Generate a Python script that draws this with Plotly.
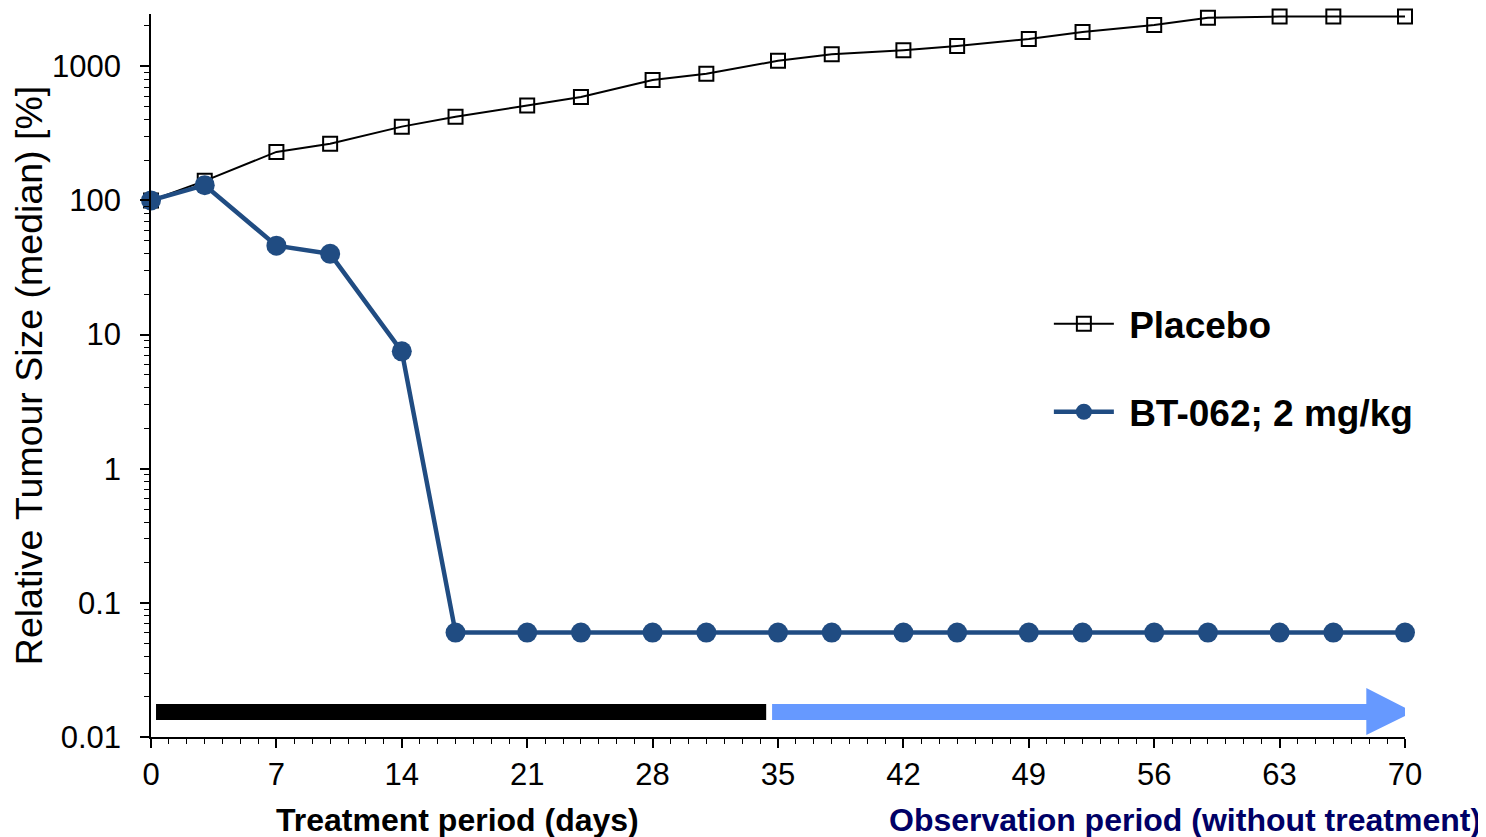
import plotly.graph_objects as go

days = [0, 3, 7, 10, 14, 17, 21, 24, 28, 31, 35, 38, 42, 45, 49, 52, 56, 59, 63, 66, 70]
placebo = [100, 140, 230, 265, 355, 420, 510, 590, 790, 880, 1100, 1230, 1320, 1420,
           1600, 1800, 2030, 2300, 2350, 2350, 2350]
bt062 = [100, 130, 46, 40, 7.5, 0.06, 0.06, 0.06, 0.06, 0.06, 0.06, 0.06, 0.06,
         0.06, 0.06, 0.06, 0.06, 0.06, 0.06, 0.06, 0.06]

y_tickvals = [0.01, 0.1, 1, 10, 100, 1000]
y_ticktext = ["0.01", "0.1", "1", "10", "100", "1000"]
x_tickvals = [0, 7, 14, 21, 28, 35, 42, 49, 56, 63, 70]

BLUE = "#204C82"
NAVY = "#000066"
FONT = "Liberation Sans, Arial, sans-serif"

y_minor = [m * 10 ** e for e in range(-2, 4) for m in range(2, 10)]

fig = go.Figure()
fig.add_trace(go.Scatter(
    x=days, y=placebo, name="&nbsp;<b>Placebo</b>", mode="lines+markers",
    line=dict(color="black", width=2),
    marker=dict(symbol="square-open", size=14, color="black", line=dict(width=2)),
    cliponaxis=False, legendgroup="a",
))
fig.add_trace(go.Scatter(
    x=days, y=bt062, name="&nbsp;<b>BT-062; 2 mg/kg</b>", mode="lines+markers",
    line=dict(color=BLUE, width=4.5),
    marker=dict(symbol="circle", size=20, color=BLUE),
    cliponaxis=False, legendgroup="b",
))

# treatment (black) and observation (blue arrow) bars
fig.add_shape(type="rect", xref="x", yref="paper", x0=0.28, x1=34.34, y0=0.0235, y1=0.0457,
              fillcolor="black", line=dict(width=0), layer="above")
fig.add_shape(type="path", xref="x", yref="paper",
              path="M 34.67 0.0457 L 67.84 0.0457 L 67.84 0.0678 L 70.46 0.0346 "
                   "L 67.84 0.0028 L 67.84 0.0235 L 34.67 0.0235 Z",
              fillcolor="#6699FF", line=dict(width=0), layer="above")

fig.add_annotation(text="<b>Treatment period (days)</b>", xref="x", yref="paper",
                   x=17.1, y=-0.115, showarrow=False, xanchor="center", yanchor="middle",
                   font=dict(size=32, color="black", family=FONT))
fig.add_annotation(text="<b>Observation period (without treatment)</b>", xref="paper", yref="paper",
                   x=1.0 + (1483 - 1405) / 1254, y=-0.115, showarrow=False,
                   xanchor="right", yanchor="middle",
                   font=dict(size=32, color=NAVY, family=FONT))

# the page body adds an 8px offset, so margins are shifted to compensate
fig.update_layout(
    width=1486, height=837,
    margin=dict(l=143, r=89, t=6, b=108),
    paper_bgcolor="white", plot_bgcolor="white",
    font=dict(family=FONT, color="black", size=31),
    showlegend=True,
    legend=dict(x=0.716, y=0.614, xanchor="left", yanchor="top",
                font=dict(size=37, family=FONT), bgcolor="rgba(0,0,0,0)",
                tracegroupgap=37, itemwidth=60),
)

fig.update_xaxes(
    range=[0, 70], tickvals=x_tickvals, ticks="outside", ticklen=9, tickwidth=1.5,
    tickcolor="black", showline=True, linecolor="black", linewidth=1.5,
    showgrid=False, zeroline=False, tickfont=dict(size=31), ticklabelstandoff=0,
    minor=dict(dtick=1, ticks="outside", ticklen=5, tickwidth=1, tickcolor="black", showgrid=False),
)
fig.update_yaxes(
    type="log", range=[-2, 3.39], tickvals=y_tickvals, ticktext=y_ticktext,
    ticks="outside", ticklen=9, tickwidth=1.5, tickcolor="black",
    showline=True, linecolor="black", linewidth=1.5, showgrid=False, zeroline=False,
    tickfont=dict(size=31), ticklabelstandoff=13,
    title=dict(text="Relative Tumour Size (median) [%]", font=dict(size=37.5), standoff=8),
    minor=dict(tickvals=y_minor, ticks="outside", ticklen=5, tickwidth=1, tickcolor="black", showgrid=False),
)

fig.write_html("out.html")
